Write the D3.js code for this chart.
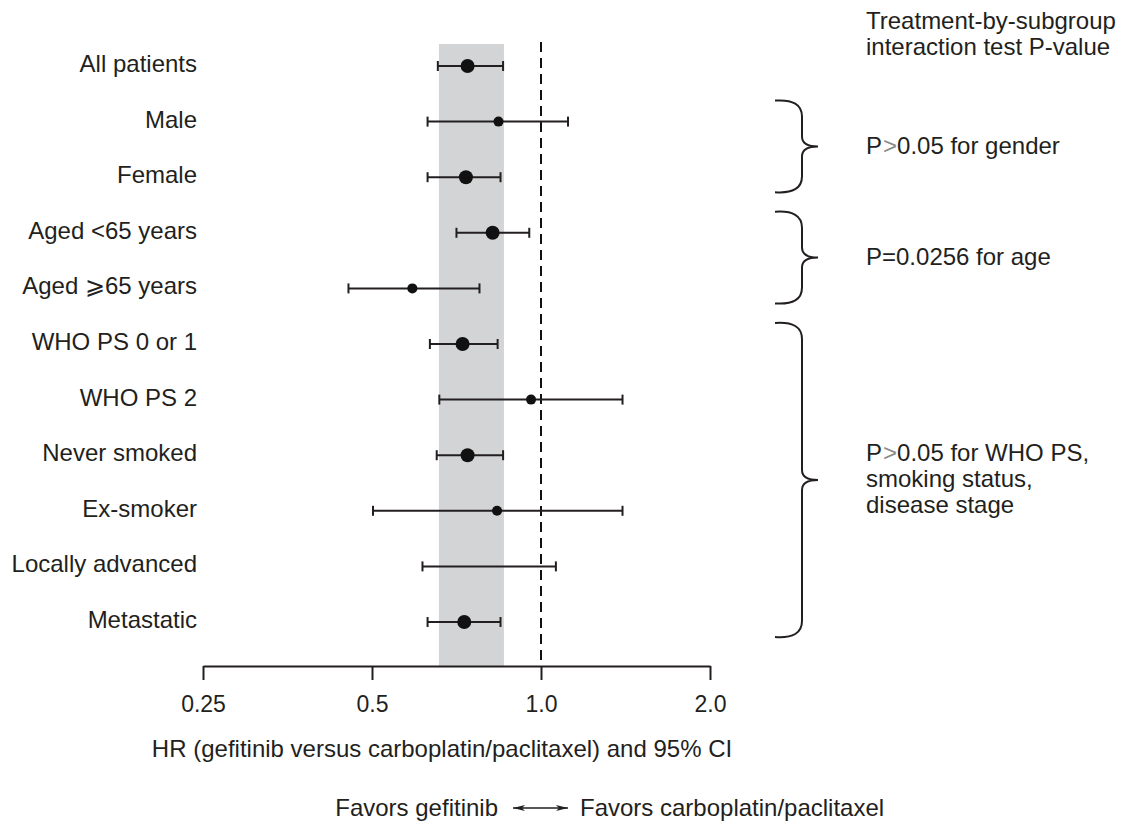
<!DOCTYPE html>
<html lang="en">
<head>
    <meta charset="UTF-8">
    <title>Forest plot - gefitinib vs carboplatin/paclitaxel</title>
    <style>
        body {
            margin: 0;
            background-color: #ffffff;
        }

        svg text {
            font-family: "Liberation Sans", Arial, sans-serif;
            fill: #231f20;
        }

        .label { font-size: 24px; }
        .note { font-size: 24px; }
        .note .sym { fill: #8a8a8a; }
    </style>
    <script src="https://d3js.org/d3.v7.min.js"></script>
</head>
<body>
    <div id="chart"></div>

    <script>
        // subgroups, top to bottom
        const subgroups = ["All patients", "Male", "Female", "Aged <65 years", "Aged \u2A7E65 years",
            "WHO PS 0 or 1", "WHO PS 2", "Never smoked", "Ex-smoker", "Locally advanced", "Metastatic"];
        // hazard ratio and 95% CI
        const hr    = [0.74, 0.84, 0.735, 0.82, 0.59, 0.725, 0.96, 0.74, 0.835, null, 0.73];
        const lower = [0.655, 0.628, 0.628, 0.707, 0.454, 0.634, 0.659, 0.652, 0.502, 0.615, 0.628];
        const upper = [0.856, 1.117, 0.847, 0.953, 0.777, 0.837, 1.397, 0.856, 1.397, 1.063, 0.847];
        // bigger dot = bigger subgroup
        const bigDot = [true, false, true, true, false, true, false, true, false, false, true];

        // overall CI band
        const overallBand = [0.658, 0.859];

        const tickValues = [0.25, 0.5, 1.0, 2.0];
        const tickLabels = ["0.25", "0.5", "1.0", "2.0"];

        // interaction test groups: first row, last row, text lines
        const braceGroups = [
            { from: "Male", to: "Female", lines: ["P>0.05 for gender"] },
            { from: "Aged <65 years", to: "Aged \u2A7E65 years", lines: ["P=0.0256 for age"] },
            { from: "WHO PS 0 or 1", to: "Metastatic", lines: ["P>0.05 for WHO PS,", "smoking status,", "disease stage"] }
        ];

        const width = 1126, height = 826;

        const svg = d3.select("#chart")
            .append("svg")
            .attr("width", width)
            .attr("height", height);

        const x = d3.scaleLog()
            .base(2)
            .domain([0.25, 2])
            .range([203, 710]);

        const y = d3.scalePoint()
            .domain(subgroups)
            .range([66, 622]);

        const plotTop = 44, axisY = 666;

        // shaded band for overall CI
        svg.append("rect")
            .attr("x", x(overallBand[0]))
            .attr("y", plotTop)
            .attr("width", x(overallBand[1]) - x(overallBand[0]))
            .attr("height", axisY - plotTop)
            .attr("fill", "#d3d4d6");

        // line of no effect
        svg.append("line")
            .attr("x1", x(1)).attr("x2", x(1))
            .attr("y1", plotTop - 2).attr("y2", axisY)
            .attr("stroke", "#111")
            .attr("stroke-width", 2)
            .attr("stroke-dasharray", "10,6");

        // axis
        const axis = d3.axisBottom(x)
            .tickValues(tickValues)
            .tickFormat((d, i) => tickLabels[i])
            .tickSizeInner(14)
            .tickSizeOuter(0)
            .tickPadding(8);

        const gAxis = svg.append("g")
            .attr("transform", `translate(0,${axisY})`)
            .call(axis);
        gAxis.select(".domain").attr("stroke", "#231f20").attr("stroke-width", 2);
        gAxis.selectAll(".tick line").attr("stroke", "#231f20").attr("stroke-width", 2);
        gAxis.selectAll(".tick text")
            .attr("font-family", null)
            .attr("font-size", null)
            .attr("dy", null)
            .attr("y", 46)
            .style("font-size", "23px")
            .attr("fill", "#231f20");

        // rows
        const rows = svg.selectAll(".row")
            .data(subgroups)
            .enter().append("g")
            .attr("class", "row")
            .attr("transform", d => `translate(0,${y(d)})`);

        rows.append("text")
            .attr("class", "label")
            .attr("x", 197)
            .attr("dy", "0.25em")
            .attr("text-anchor", "end")
            .text(d => d);

        rows.append("line")
            .attr("x1", (d, i) => x(lower[i]))
            .attr("x2", (d, i) => x(upper[i]))
            .attr("stroke", "#231f20")
            .attr("stroke-width", 2);

        rows.selectAll(".cap")
            .data((d, i) => [lower[i], upper[i]])
            .enter().append("line")
            .attr("class", "cap")
            .attr("x1", v => x(v)).attr("x2", v => x(v))
            .attr("y1", -5).attr("y2", 5)
            .attr("stroke", "#231f20")
            .attr("stroke-width", 2);

        rows.filter((d, i) => hr[i] != null)
            .append("circle")
            .attr("cx", d => x(hr[subgroups.indexOf(d)]))
            .attr("r", d => bigDot[subgroups.indexOf(d)] ? 7 : 5)
            .attr("fill", "#111");

        // header for interaction tests
        const noteX = 866;
        svg.append("text")
            .attr("class", "note")
            .attr("x", noteX).attr("y", 29)
            .text("Treatment-by-subgroup");
        svg.append("text")
            .attr("class", "note")
            .attr("x", noteX).attr("y", 55)
            .text("interaction test P-value");

        // braces
        const braceLeft = 775, braceMid = 802, braceTip = 818;
        function bracePath(top, bottom) {
            const mid = (top + bottom) / 2;
            return `M${braceLeft},${top} Q${braceMid},${top - 2} ${braceMid},${top + 16}` +
                ` L${braceMid},${mid - 10} Q${braceMid},${mid} ${braceTip},${mid}` +
                ` Q${braceMid},${mid} ${braceMid},${mid + 10}` +
                ` L${braceMid},${bottom - 16} Q${braceMid},${bottom + 2} ${braceLeft},${bottom}`;
        }

        braceGroups.forEach(g => {
            const top = y(g.from) - 21;
            const bottom = y(g.to) + 15;
            const mid = (top + bottom) / 2;
            svg.append("path")
                .attr("d", bracePath(top, bottom))
                .attr("fill", "none")
                .attr("stroke", "#231f20")
                .attr("stroke-width", 2);

            const t = svg.append("text")
                .attr("class", "note")
                .attr("x", noteX)
                .attr("y", mid - (g.lines.length - 1) * 13);
            g.lines.forEach((line, i) => {
                // the ">" sign is printed lighter in the original
                const parts = line.split(">");
                parts.forEach((part, j) => {
                    const ts = t.append("tspan");
                    if (j === 0) ts.attr("x", noteX).attr("dy", i === 0 ? "0.3em" : 26);
                    ts.text(part);
                    if (j < parts.length - 1) {
                        t.append("tspan").attr("class", "sym").attr("dx", 1).text(">");
                    }
                });
            });
        });

        // axis title
        svg.append("text")
            .attr("class", "label")
            .attr("x", 442).attr("y", 757)
            .attr("text-anchor", "middle")
            .text("HR (gefitinib versus carboplatin/paclitaxel) and 95% CI");

        // favors line with double arrow
        const defs = svg.append("defs");
        defs.append("marker")
            .attr("id", "arrow")
            .attr("viewBox", "0 0 12 6")
            .attr("refX", 12).attr("refY", 3)
            .attr("markerUnits", "userSpaceOnUse")
            .attr("markerWidth", 12).attr("markerHeight", 6)
            .attr("orient", "auto-start-reverse")
            .append("path")
            .attr("d", "M0,0 L12,3 L0,6 L3,3 Z")
            .attr("fill", "#231f20");

        svg.append("text")
            .attr("class", "label")
            .attr("x", 498).attr("y", 816)
            .attr("text-anchor", "end")
            .text("Favors gefitinib");

        svg.append("line")
            .attr("x1", 513).attr("x2", 568)
            .attr("y1", 808).attr("y2", 808)
            .attr("stroke", "#231f20")
            .attr("stroke-width", 1.5)
            .attr("marker-start", "url(#arrow)")
            .attr("marker-end", "url(#arrow)");

        svg.append("text")
            .attr("class", "label")
            .attr("x", 580).attr("y", 816)
            .text("Favors carboplatin/paclitaxel");
    </script>
</body>
</html>
